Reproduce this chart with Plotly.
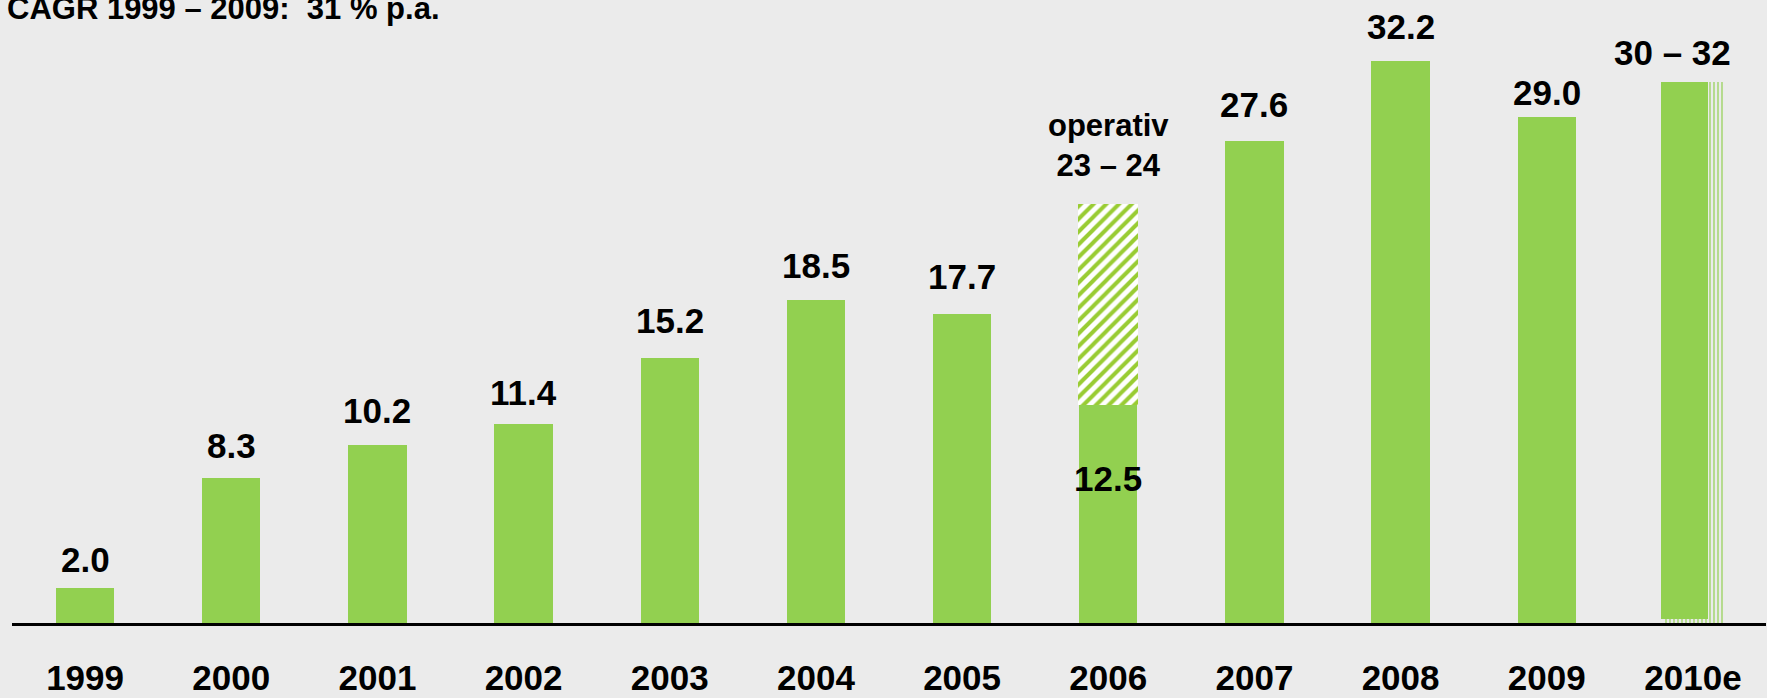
import plotly.graph_objects as go

# ---- data ----
years = ["1999", "2000", "2001", "2002", "2003", "2004", "2005", "2006", "2007", "2008", "2009"]
values = [2.0, 8.3, 10.2, 11.4, 15.2, 18.5, 17.7, 12.5, 27.6, 32.2, 29.0]
categories = years + ["2010e"]

op_year = "2006"
op_low, op_high = 23, 24          # operativ range shown as hatched extension
est_year = "2010e"
est_low, est_high = 30, 32        # estimate range
est_mid = (est_low + est_high) / 2

title_text = "CAGR 1999 – 2009:  31 % p.a."

# ---- style ----
GREEN = "#92D050"
HATCH = "#99CC33"
BG = "#EBEBEB"
FONT = "Liberation Sans, Arial, sans-serif"
W, H = 1767, 698
ML, MR, MT, MB = 12, 1, 0, 75
PX_PER_UNIT = 17.46
ymax = (H - MT - MB) / PX_PER_UNIT
# label lift above bar top (px), per category, as in the original layout
label_lift = {"1999": 7, "2000": 11, "2001": 13, "2002": 10, "2003": 16, "2004": 13,
              "2005": 16, "2007": 15, "2008": 13, "2009": 3}

fig = go.Figure()

# main solid bars
fig.add_trace(go.Bar(
    x=years, y=values, width=0.40,
    marker=dict(color=GREEN, line=dict(width=0)),
    hoverinfo="skip", showlegend=False,
))

# 2006 hatched operativ extension
op_idx = years.index(op_year)
op_base = values[op_idx]
fig.add_trace(go.Bar(
    x=[op_year], y=[op_high - op_base], base=[op_base], width=0.41,
    marker=dict(color="white", line=dict(width=0),
                pattern=dict(shape="/", fgcolor=HATCH, bgcolor="white",
                             fgopacity=1, size=9, solidity=0.45)),
    hoverinfo="skip", showlegend=False,
))

# 2010e: striped full-width bar + solid bar on top (left part)
fig.add_trace(go.Bar(
    x=[est_year], y=[est_mid], width=0.41,
    marker=dict(color=BG, line=dict(width=0),
                pattern=dict(shape="|", fgcolor=GREEN, bgcolor=BG,
                             fgopacity=1, size=4, solidity=0.3)),
    hoverinfo="skip", showlegend=False,
))
fig.add_trace(go.Bar(
    x=[est_year], y=[est_mid - 0.25], base=[0.25], width=0.32, offset=-0.215,
    marker=dict(color=GREEN, line=dict(width=0)),
    hoverinfo="skip", showlegend=False,
))

annotations = []
LABEL_FONT = dict(family=FONT, size=35, color="black", weight="bold")
for i, (yr, v) in enumerate(zip(years, values)):
    if yr == op_year:
        continue
    annotations.append(dict(
        x=i, y=v, xref="x", yref="y", text=f"{v:.1f}",
        showarrow=False, xanchor="center", yanchor="bottom",
        yshift=label_lift.get(yr, 13),
        font=LABEL_FONT,
    ))

# 2006 labels
annotations.append(dict(
    x=op_idx, y=op_high, xref="x", yref="y",
    text=f"operativ<br>{op_low} – {op_high}",
    showarrow=False, xanchor="center", yanchor="bottom", yshift=19,
    font=dict(family=FONT, size=31, color="black", weight="bold"),
))
annotations.append(dict(
    x=op_idx, y=op_base, xref="x", yref="y", text=f"{op_base:.1f}",
    showarrow=False, xanchor="center", yanchor="middle", yshift=-74,
    font=LABEL_FONT,
))
# 2010e label
annotations.append(dict(
    x=categories.index(est_year), y=est_mid, xref="x", yref="y",
    text=f"{est_low} – {est_high}",
    showarrow=False, xanchor="center", yanchor="bottom", yshift=8, xshift=-20,
    font=LABEL_FONT,
))
# title
annotations.append(dict(
    x=0, y=1, xref="paper", yref="paper", text=title_text,
    showarrow=False, xanchor="left", yanchor="bottom", xshift=-7, yshift=-28,
    font=dict(family=FONT, size=31, color="black", weight="bold"),
))

fig.update_layout(
    width=W, height=H,
    margin=dict(l=ML, r=MR, t=MT, b=MB, autoexpand=False),
    paper_bgcolor=BG, plot_bgcolor=BG,
    barmode="overlay",
    bargap=0,
    annotations=annotations,
    xaxis=dict(
        type="category", categoryorder="array", categoryarray=categories,
        range=[-0.5, len(categories) - 0.5],
        showline=True, linecolor="black", linewidth=3,
        showgrid=False, zeroline=False, ticks="",
        tickfont=dict(family=FONT, size=35, color="black", weight="bold"),
        ticklabelstandoff=22,
        automargin=False,
        fixedrange=True,
    ),
    yaxis=dict(range=[0, ymax], visible=False, fixedrange=True, automargin=False),
    showlegend=False,
)

fig.write_html(
    "out.html",
    config={"displayModeBar": False},
    post_script="document.body.style.margin='0';document.body.style.overflow='hidden';",
)
